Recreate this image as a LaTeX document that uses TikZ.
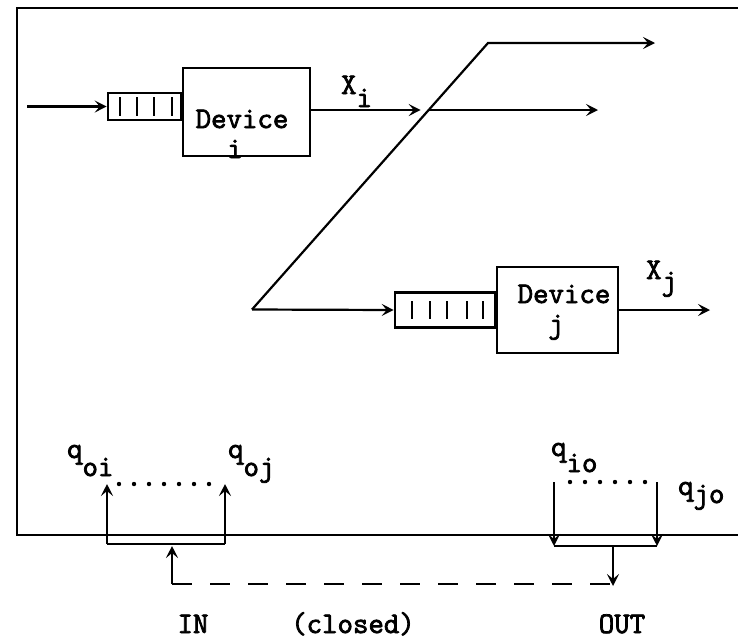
\documentclass[tikz,border=0pt]{standalone}
\usepackage{fontspec}
\setmonofont{Latin Modern Mono}[AutoFakeBold=2.5]
\usetikzlibrary{arrows.meta,positioning}
\newcommand\dn[2][7pt]{\raisebox{-#1}{#2}}

\begin{document}
\begin{tikzpicture}[
  x=0.5pt, y=-0.5pt,
  line width=1.1pt,
  font=\fontsize{15}{17}\selectfont\ttfamily\bfseries,
  device/.style={draw, minimum width=63.5pt, minimum height=44pt, inner sep=0pt},
  queue/.style={draw, inner sep=0pt},
  txt/.style={inner sep=0pt},
  arrow/.style={-{Stealth[length=6pt,width=6pt,inset=2.5pt]}},
  dots/.style={line width=2.2pt, line cap=round, dash pattern=on 0pt off 7.5pt}
]
\useasboundingbox (0,0) rectangle (738,638);
% system frame
\draw (738,8) -- (17,8) -- (17,535) -- (738,535);

% device i with its queue
\node[device] (devi) at (246.5,112) {};
\node[queue, minimum width=36.5pt, minimum height=13.5pt, anchor=east] (queuei) at ([yshift=2.75pt]devi.west) {};
\foreach \x in {120,137,154,172}
  \draw (\x,97) -- (\x,116);
\node[txt, anchor=base] (devitxt) at (242,128) {Device};
\node[txt, anchor=base] (deviname) at (235,158) {i};

% device j with its queue
\node[device, minimum width=60.5pt, minimum height=43pt] (devj) at (557.5,310) {};
\node[queue, minimum width=50pt, minimum height=17.5pt, left=0pt of devj] (queuej) {};
\foreach \x in {412,430,447,467,483}
  \draw (\x,301) -- (\x,319);
\node[txt, anchor=base] (devjtxt) at (564,303) {Device};
\node[txt, anchor=base] (devjname) at (556,333) {j};

% flows
\coordinate (inleft) at (27,106.5);
\coordinate (cross) at (428.7,110);
\coordinate (outi) at (598,110);
\coordinate (split) at (252,309.5);
\coordinate (bend) at (488,43);
\coordinate (outtop) at (655,43);
\coordinate (outj) at (710,310);
\draw[arrow] (inleft) -- (queuei.west);
\draw[arrow, shorten >=4pt] (devi.east |- cross) -- (cross);
\draw[arrow] (cross) -- (outi);
\draw[arrow] (split) -- (bend) -- (outtop);
\draw[arrow] (split) -- (queuej.west);
\draw[arrow] (devj.east) -- (outj);
\node[txt, anchor=base west] (xi) at (340,94) {X\dn[6.5pt]{i}};
\node[txt, anchor=base west] (xj) at (645,279) {X\dn[5.5pt]{j}};

% IN side
\coordinate (oi) at (107,544);
\coordinate (oj) at (225,544);
\coordinate (oitop) at (107,484);
\coordinate (ojtop) at (225,484);
\draw (oi) -- (oj);
\draw[arrow] (oi) -- (oitop);
\draw[arrow] (oj) -- (ojtop);
\draw[dots] ([xshift=6pt]oitop) -- ([xshift=-4pt]ojtop);
\node[txt, anchor=base west] (qoi) at (66,458) {q\dn[9pt]{oi}};
\node[txt, anchor=base west] (qoj) at (227,458) {q\dn[9pt]{oj}};

% OUT side
\coordinate (io) at (554,546);
\coordinate (jo) at (657,546);
\coordinate (iotop) at (554,482);
\coordinate (jotop) at (657,482);
\draw (io) -- (jo);
\draw[arrow] (iotop) -- (io);
\draw[arrow] (jotop) -- (jo);
\draw[dots] ([xshift=8pt]iotop) -- ([xshift=-4pt]jotop);
\node[txt, anchor=base west] (qio) at (550,456) {q\dn[8pt]{io}};
\node[txt, anchor=base west] (qjo) at (677,495) {q\dn[4pt]{jo}};

% closing loop
\coordinate (inmid) at (172,546);
\coordinate (incorner) at (172,584);
\coordinate (outmid) at (613,546);
\coordinate (outtip) at (613,586);
\draw[dash pattern=on 10pt off 9pt] (incorner) -- (outtip |- incorner);
\draw[arrow] (incorner) -- (inmid);
\draw[arrow] (outmid) -- (outtip);

\node[txt, anchor=base] (in) at (193,633) {IN};
\node[txt, anchor=base] (closed) at (353,633) {(closed)};
\node[txt, anchor=base] (out) at (622,633) {OUT};
\end{tikzpicture}
\end{document}
